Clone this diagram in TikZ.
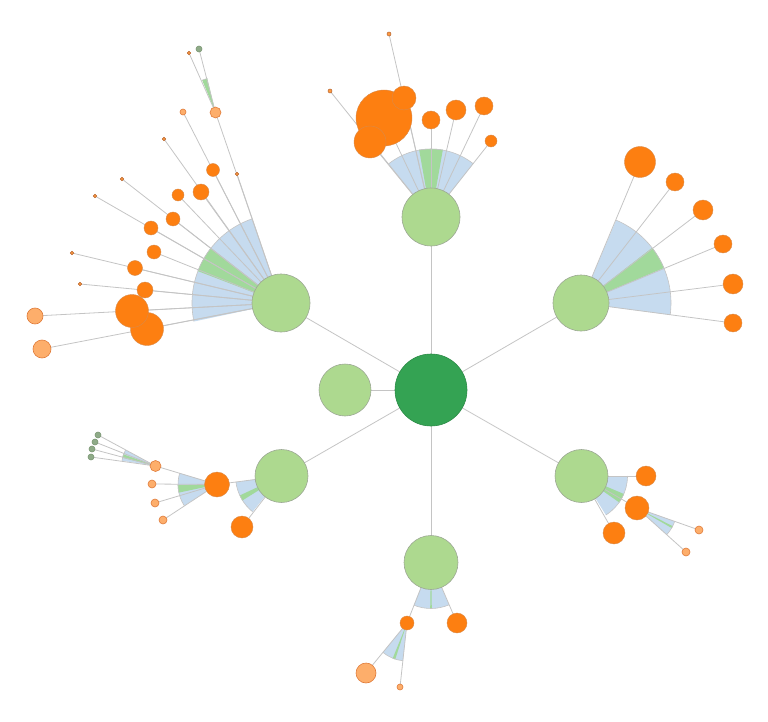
\documentclass[tikz,border=0pt]{standalone}
\definecolor{dgreen}{HTML}{34A353}
\definecolor{lgreen}{HTML}{ADD98F}
\definecolor{lgborder}{HTML}{9CA894}
\definecolor{orangeA}{HTML}{FD7F11}
\definecolor{orborder}{HTML}{D98A4A}
\definecolor{lorange}{HTML}{FDAE6B}
\definecolor{loborder}{HTML}{E07B39}
\definecolor{ggreen}{HTML}{8FAB88}
\definecolor{ggborder}{HTML}{7A9673}
\definecolor{wblue}{HTML}{C6DBEF}
\definecolor{wgreen}{HTML}{A1D99B}
\definecolor{lineg}{HTML}{C4C4C4}
\pgfdeclarelayer{bg}
\pgfdeclarelayer{mid}
\pgfsetlayers{bg,mid,main}
\tikzset{
  base/.style={circle, inner sep=0pt, outer sep=0pt, line width=0.6pt},
  dgnode/.style={base, fill=dgreen, draw=dgreen!85!black, minimum size=#1},
  lgnode/.style={base, fill=lgreen, draw=lgborder, minimum size=#1},
  onode/.style={base, fill=orangeA, draw=orborder, line width=0.4pt, minimum size=#1},
  lonode/.style={base, fill=lorange, draw=loborder, minimum size=#1},
  tinyo/.style={base, fill=orangeA!80!white, draw=loborder!80!black, line width=0.5pt, minimum size=#1},
  ggnode/.style={base, fill=ggreen, draw=ggborder, minimum size=#1},
  edge/.style={draw=lineg, line width=0.8pt},
  wedgeedge/.style={draw=lineg, line width=0.6pt},
}
\newcommand\wdg[5]{%
  \fill[#5] (#1.center) -- ++(#2:#4) arc[start angle=#2,end angle=#3,radius=#4] -- cycle;
  \draw[wedgeedge] (#1.center) ++(#2:#4) arc[start angle=#2,end angle=#3,radius=#4];}
\begin{document}
\begin{tikzpicture}[x=1pt,y=1pt]
\useasboundingbox (0,0) rectangle (768,-722);
% root and children
\node[dgnode=72pt] (c) at (431,-390) {};
\node[lgnode=52pt] (L) at (345,-390) {};
\node[lgnode=58pt] (T) at (431,-217) {};
\node[lgnode=58pt] (UL) at (281,-303) {};
\node[lgnode=56pt] (UR) at (581,-303) {};
\node[lgnode=53pt] (LL) at (281.5,-476) {};
\node[lgnode=53pt] (LR) at (581.5,-476) {};
\node[lgnode=54pt] (B) at (431,-562.5) {};
% top group
\node[tinyo=4pt] (t1) at (330,-91) {};
\node[tinyo=4pt] (t2) at (389,-34) {};
\node[onode=56pt] (t4) at (384,-118) {};
\node[onode=32pt] (t5) at (370,-142) {};
\node[onode=24pt] (t3) at (404,-98) {};
\node[onode=18pt] (t6) at (431,-120) {};
\node[onode=20pt] (t7) at (456,-110) {};
\node[onode=18pt] (t8) at (484,-106) {};
\node[onode=12pt] (t9) at (491,-141) {};
% upper left group
\node[lonode=11pt] (u3) at (215.5,-112.5) {};
\node[ggnode=6pt] (u1) at (199,-49) {};
\node[tinyo=3.6pt] (u2) at (189,-53) {};
\node[lonode=6pt] (u4) at (183,-112) {};
\node[tinyo=3.6pt] (u5) at (164,-139) {};
\node[tinyo=3.6pt] (u6) at (237,-174) {};
\node[onode=13pt] (u7) at (213,-170) {};
\node[onode=16pt] (u8) at (201,-192) {};
\node[onode=12pt] (u9) at (178,-195) {};
\node[tinyo=3.6pt] (u10) at (122,-179) {};
\node[onode=14pt] (u11) at (173,-219) {};
\node[tinyo=3.6pt] (u12) at (95,-196) {};
\node[onode=14pt] (u13) at (151,-228) {};
\node[onode=14pt] (u14) at (154,-252) {};
\node[tinyo=3.6pt] (u15) at (72,-253) {};
\node[onode=15pt] (u16) at (135,-268) {};
\node[tinyo=3.6pt] (u17) at (80,-284) {};
\node[onode=16pt] (u18) at (145,-290) {};
\node[onode=33pt] (u20) at (147,-329) {};
\node[onode=33pt] (u19) at (132,-311) {};
\node[lonode=16pt] (u21) at (35,-316) {};
\node[lonode=18pt] (u22) at (42,-349) {};
% upper right group
\node[onode=31pt] (r1) at (640,-162) {};
\node[onode=18pt] (r2) at (675,-182) {};
\node[onode=20pt] (r3) at (703,-210) {};
\node[onode=18pt] (r4) at (723,-244) {};
\node[onode=20pt] (r5) at (733,-284) {};
\node[onode=18pt] (r6) at (733,-323) {};
% lower left group
\node[onode=25pt] (l1) at (217,-484.5) {};
\node[onode=22pt] (l2) at (242,-527) {};
\node[lonode=11pt] (l3) at (155.5,-466) {};
\node[lonode=8pt] (l4) at (152,-484) {};
\node[lonode=8pt] (l5) at (155,-503) {};
\node[lonode=8pt] (l6) at (163,-520) {};
\node[ggnode=6pt] (l7) at (98,-435) {};
\node[ggnode=6pt] (l8) at (95,-442) {};
\node[ggnode=6pt] (l9) at (92,-449) {};
\node[ggnode=6pt] (l10) at (91,-457) {};
% lower right group
\node[onode=20pt] (m1) at (646,-476) {};
\node[onode=24pt] (m2) at (637,-508) {};
\node[onode=22pt] (m3) at (614,-533) {};
\node[lonode=8pt] (m4) at (699,-530) {};
\node[lonode=8pt] (m5) at (686,-552) {};
% bottom group
\node[onode=14pt] (b1) at (407,-623) {};
\node[onode=20pt] (b2) at (457,-623) {};
\node[lonode=20pt] (b3) at (366,-673) {};
\node[lonode=6pt] (b4) at (400,-687) {};

\begin{pgfonlayer}{bg}
  \wdg{T}{51.5}{128.5}{68}{wblue}
  \wdg{T}{80}{100}{68}{wgreen}
  \wdg{UL}{109}{192}{89}{wblue}
  \wdg{UL}{142}{159}{89}{wgreen}
  \wdg{u3}{103.6}{112.4}{35}{wgreen}
  \wdg{UR}{-7.6}{67}{90}{wblue}
  \wdg{UR}{22.9}{37.8}{90}{wgreen}
  \wdg{LL}{187.5}{231}{46}{wblue}
  \wdg{LL}{205}{212}{46}{wgreen}
  \wdg{l1}{163}{213}{39}{wblue}
  \wdg{l1}{181}{192}{39}{wgreen}
  \wdg{l3}{152}{171}{34}{wblue}
  \wdg{l3}{160}{166}{34}{wgreen}
  \wdg{LR}{-58}{0}{46}{wblue}
  \wdg{LR}{-35}{-23}{46}{wgreen}
  \wdg{m2}{-42}{-19.5}{40}{wblue}
  \wdg{m2}{-30}{-27}{40}{wgreen}
  \wdg{B}{248}{293}{46}{wblue}
  \wdg{B}{269}{271}{46}{wgreen}
  \wdg{b1}{230.6}{263.8}{38}{wblue}
  \wdg{b1}{248}{252}{38}{wgreen}
\end{pgfonlayer}

\begin{pgfonlayer}{mid}
  \foreach \n in {L,T,UL,UR,LL,LR,B} \draw[edge] (c.center) -- (\n.center);
  \foreach \n in {t1,t2,t3,t4,t5,t6,t7,t8,t9} \draw[edge] (T.center) -- (\n.center);
  \foreach \n in {u3,u4,u5,u6,u7,u8,u9,u10,u11,u12,u13,u14,u15,u16,u17,u18,u19,u20,u21,u22} \draw[edge] (UL.center) -- (\n.center);
  \foreach \n in {u1,u2} \draw[edge] (u3.center) -- (\n.center);
  \foreach \n in {r1,r2,r3,r4,r5,r6} \draw[edge] (UR.center) -- (\n.center);
  \foreach \n in {l1,l2} \draw[edge] (LL.center) -- (\n.center);
  \foreach \n in {l3,l4,l5,l6} \draw[edge] (l1.center) -- (\n.center);
  \foreach \n in {l7,l8,l9,l10} \draw[edge] (l3.center) -- (\n.center);
  \foreach \n in {m1,m2,m3} \draw[edge] (LR.center) -- (\n.center);
  \foreach \n in {m4,m5} \draw[edge] (m2.center) -- (\n.center);
  \foreach \n in {b1,b2} \draw[edge] (B.center) -- (\n.center);
  \foreach \n in {b3,b4} \draw[edge] (b1.center) -- (\n.center);
\end{pgfonlayer}
\end{tikzpicture}
\end{document}
